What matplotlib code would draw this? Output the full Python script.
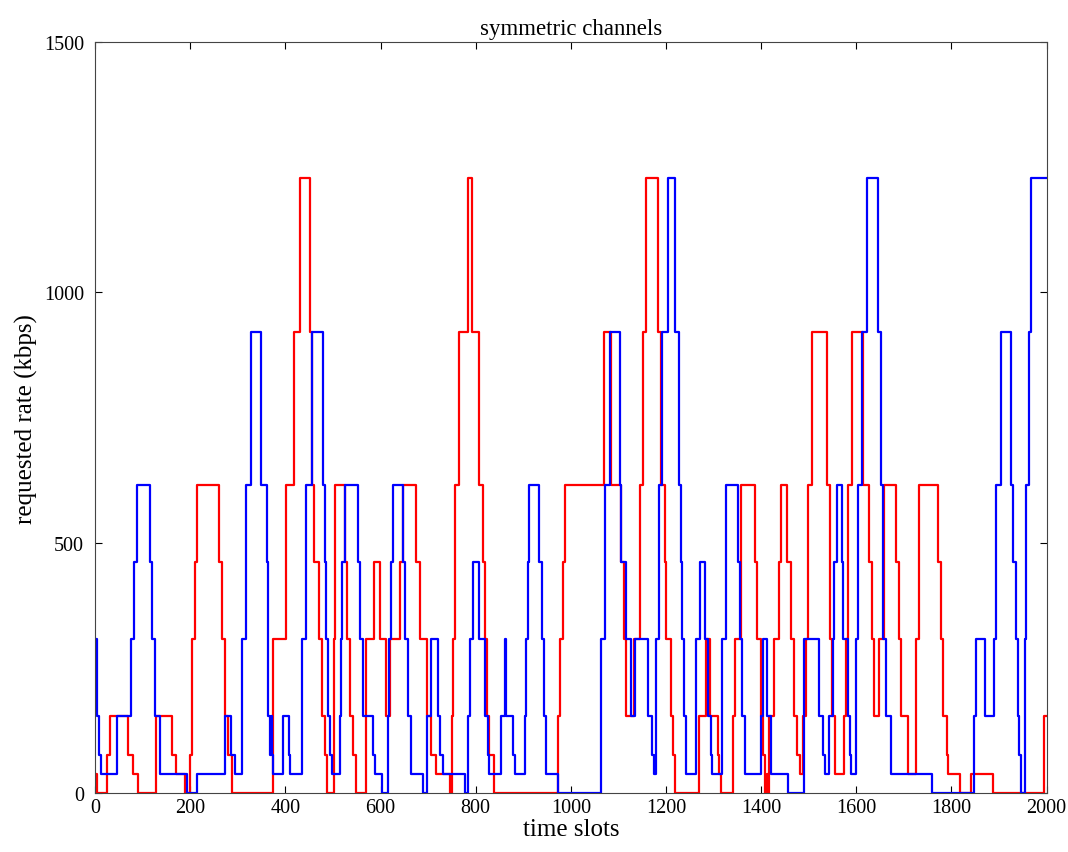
import numpy as np
import matplotlib
matplotlib.use("Agg")
import matplotlib.pyplot as plt

# change points (time slot, requested rate in kbps), held until next change

blue_t = [0, 5, 9, 12, 47, 75, 82, 88, 115, 120, 126, 136, 193, 214, 273, 285, 294,
          309, 317, 328, 349, 361, 363, 364, 368, 370, 372, 374, 396, 407, 410, 434,
          444, 455, 480, 483, 486, 490, 494, 497, 514, 517, 520, 525, 553, 557, 564,
          585, 589, 604, 615, 618, 621, 627, 647, 652, 657, 663, 665, 690, 698, 707,
          721, 725, 731, 777, 784, 788, 794, 808, 820, 826, 829, 854, 861, 864, 878,
          882, 903, 906, 909, 913, 934, 939, 944, 948, 973, 1064, 1071, 1083, 1103,
          1106, 1115, 1127, 1134, 1162, 1171, 1174, 1178, 1185, 1192, 1204, 1218,
          1227, 1231, 1234, 1238, 1242, 1262, 1271, 1282, 1289, 1294, 1297, 1317,
          1326, 1351, 1356, 1359, 1365, 1400, 1403, 1413, 1421, 1457, 1490, 1522,
          1529, 1534, 1543, 1550, 1553, 1559, 1569, 1573, 1582, 1587, 1589, 1600,
          1604, 1612, 1622, 1645, 1652, 1656, 1663, 1673, 1760, 1847, 1851, 1870,
          1889, 1893, 1905, 1925, 1929, 1935, 1939, 1942, 1946, 1954, 1956, 1962, 1968]
blue_rate = [307.2, 153.6, 76.8, 38.4, 153.6, 307.2, 460.8, 614.4, 460.8, 307.2, 153.6, 38.4, 0, 38.4, 153.6, 76.8, 38.4,
             307.2, 614.4, 921.6, 614.4, 460.8, 307.2, 153.6, 76.8, 153.6, 76.8, 38.4, 153.6, 76.8, 38.4, 307.2,
             614.4, 921.6, 614.4, 460.8, 307.2, 153.6, 76.8, 38.4, 153.6, 307.2, 460.8, 614.4, 460.8, 307.2, 153.6,
             76.8, 38.4, 0, 153.6, 307.2, 460.8, 614.4, 460.8, 307.2, 153.6, 76.8, 38.4, 0, 153.6, 307.2,
             153.6, 76.8, 38.4, 0, 153.6, 307.2, 460.8, 307.2, 153.6, 76.8, 38.4, 153.6, 307.2, 153.6, 76.8,
             38.4, 153.6, 307.2, 460.8, 614.4, 460.8, 307.2, 153.6, 38.4, 0, 307.2, 614.4, 921.6, 614.4,
             460.8, 307.2, 153.6, 307.2, 153.6, 76.8, 38.4, 307.2, 614.4, 921.6, 1228.8, 921.6,
             614.4, 460.8, 307.2, 153.6, 38.4, 307.2, 460.8, 307.2, 153.6, 76.8, 38.4, 307.2,
             614.4, 460.8, 307.2, 153.6, 38.4, 153.6, 307.2, 153.6, 38.4, 0, 307.2, 153.6,
             76.8, 38.4, 153.6, 307.2, 460.8, 614.4, 460.8, 307.2, 153.6, 76.8, 38.4, 307.2,
             614.4, 921.6, 1228.8, 921.6, 614.4, 307.2, 153.6, 38.4, 0, 153.6, 307.2, 153.6,
             307.2, 614.4, 921.6, 614.4, 460.8, 307.2, 153.6, 76.8, 0, 307.2, 614.4, 921.6, 1228.8]

red_t = [0, 4, 26, 31, 70, 79, 91, 129, 161, 170, 189, 199, 203, 210, 215, 261, 266,
         273, 279, 288, 374, 402, 418, 430, 451, 455, 461, 470, 476, 483, 488, 502,
         505, 525, 529, 535, 542, 548, 570, 586, 598, 612, 619, 640, 648, 674, 682,
         697, 706, 716, 745, 750, 753, 756, 765, 784, 792, 808, 815, 819, 823, 828,
         839, 973, 978, 983, 988, 1069, 1085, 1106, 1112, 1116, 1132, 1145, 1152,
         1157, 1183, 1190, 1197, 1200, 1211, 1214, 1218, 1270, 1284, 1293, 1309,
         1312, 1315, 1340, 1345, 1357, 1386, 1392, 1399, 1404, 1408, 1412, 1414,
         1417, 1428, 1438, 1442, 1455, 1463, 1469, 1476, 1481, 1487, 1494, 1498,
         1507, 1539, 1544, 1548, 1555, 1575, 1579, 1582, 1591, 1615, 1626, 1633,
         1637, 1647, 1659, 1683, 1689, 1694, 1708, 1725, 1731, 1771, 1778, 1783,
         1790, 1792, 1818, 1841, 1887, 1995]
red_rate = [38.4, 0, 76.8, 153.6, 76.8, 38.4, 0, 153.6, 76.8, 38.4, 0, 76.8, 307.2, 460.8, 614.4, 460.8, 307.2,
            153.6, 76.8, 0, 307.2, 614.4, 921.6, 1228.8, 921.6, 614.4, 460.8, 307.2, 153.6, 76.8, 0, 307.2,
            614.4, 460.8, 307.2, 153.6, 76.8, 0, 307.2, 460.8, 307.2, 153.6, 307.2, 460.8, 614.4, 460.8, 307.2,
            153.6, 76.8, 38.4, 0, 153.6, 307.2, 614.4, 921.6, 1228.8, 921.6, 614.4, 460.8, 307.2, 153.6, 76.8,
            0, 153.6, 307.2, 460.8, 614.4, 921.6, 614.4, 460.8, 307.2, 153.6, 307.2, 614.4, 921.6,
            1228.8, 921.6, 614.4, 460.8, 307.2, 153.6, 76.8, 0, 153.6, 307.2, 153.6, 76.8,
            38.4, 0, 153.6, 307.2, 614.4, 460.8, 307.2, 153.6, 76.8, 0, 38.4, 0,
            153.6, 307.2, 460.8, 614.4, 460.8, 307.2, 153.6, 76.8, 38.4, 153.6, 307.2, 614.4,
            921.6, 614.4, 307.2, 153.6, 38.4, 153.6, 307.2, 614.4, 921.6, 614.4, 460.8, 307.2,
            153.6, 307.2, 614.4, 460.8, 307.2, 153.6, 38.4, 307.2, 614.4, 460.8, 307.2, 153.6,
            76.8, 38.4, 0, 38.4, 0, 153.6]

t_end = 2000

plt.rcParams['font.family'] = ['Liberation Serif', 'DejaVu Serif']

fig = plt.figure(figsize=(10.68, 8.53), dpi=100)
ax = fig.add_axes([0.089, 0.069, 0.891, 0.8806])

ax.step(red_t + [t_end], red_rate + [red_rate[-1]], where='post', color='#ff0000', lw=1.6)
ax.step(blue_t + [t_end], blue_rate + [blue_rate[-1]], where='post', color='#0000ff', lw=1.6)

ax.set_xlim(0, 2000)
ax.set_ylim(0, 1500)
ax.set_xticks(np.arange(0, 2001, 200))
ax.set_yticks([0, 500, 1000, 1500])
ax.tick_params(direction='in', top=True, right=True, labelsize=14.5, length=5, width=0.8)
ax.tick_params(axis='y', pad=8)
for s in ax.spines.values():
    s.set_color('#444444')
    s.set_linewidth(0.8)

ax.set_title("symmetric channels", fontsize=16.5)
ax.set_xlabel("time slots", fontsize=18, labelpad=1)
ax.set_ylabel("requested rate (kbps)", fontsize=18, labelpad=4)

fig.savefig("out.png", dpi=100)
